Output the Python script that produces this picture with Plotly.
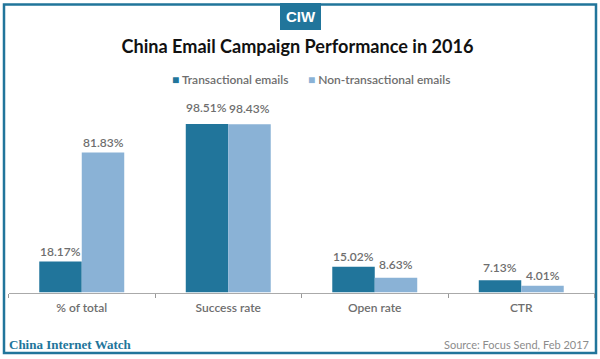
import plotly.graph_objects as go

categories = ["% of total", "Success rate", "Open rate", "CTR"]
transactional = [18.17, 98.51, 15.02, 7.13]
non_transactional = [81.83, 98.43, 8.63, 4.01]
transactional_label_lift = [10, 17, 10, 13]
non_transactional_label_lift = [10, 16, 13, 10]
W, H = 600, 359
FONT = "Lato"
DARK = "#21759b"
LIGHT = "#8ab2d6"
GREY = "#6e6e6e"


def px(v):
    return v / W


def py(v):
    return 1 - v / H


fig = go.Figure()
for name, vals, col in [("Transactional emails", transactional, DARK),
                        ("Non-transactional emails", non_transactional, LIGHT)]:
    fig.add_bar(x=categories, y=vals, name=name, marker_color=col, marker_line_width=0,
                showlegend=False)

shapes = [
    dict(type="rect", xref="paper", yref="paper", x0=px(4), x1=px(596), y0=py(353), y1=py(4.5),
         line=dict(color=DARK, width=2.5), fillcolor="rgba(0,0,0,0)", layer="below"),
    dict(type="rect", xref="paper", yref="paper", x0=px(280), x1=px(321), y0=py(30), y1=py(3),
         line_width=0, fillcolor=DARK, layer="below"),
]
annotations = [
    dict(text="<b>CIW</b>", x=px(300.5), y=py(17), font=dict(family="Liberation Sans Narrow, Liberation Sans", size=15, color="white")),
    dict(text="<b>China Internet Watch</b>", x=px(7), y=py(344), xanchor="left",
         font=dict(family="Liberation Serif", size=13, color=DARK)),
    dict(text="Source: Focus Send, Feb 2017", x=px(590.5), y=py(344), xanchor="right",
         font=dict(family=FONT, size=11, color="#8c8c8c")),
    dict(text=f"<span style='color:{DARK}'>■</span> Transactional emails", x=px(170), y=py(80), xanchor="left",
         font=dict(family=FONT, size=12, color=GREY, weight=600)),
    dict(text=f"<span style='color:{LIGHT}'>■</span> Non-transactional emails", x=px(306), y=py(80), xanchor="left",
         font=dict(family=FONT, size=12, color=GREY, weight=600)),
]
for a in annotations:
    a.update(xref="paper", yref="paper", showarrow=False, yanchor="middle")

for vals, lifts, dx in [(transactional, transactional_label_lift, -21.4),
                        (non_transactional, non_transactional_label_lift, 21.4)]:
    for cat, v, lift in zip(categories, vals, lifts):
        annotations.append(dict(x=cat, y=v, xref="x", yref="y", text=f"{v:.2f}%", showarrow=False,
                                xshift=dx, yshift=lift, yanchor="middle", xanchor="center",
                                font=dict(family=FONT, size=12, color=GREY, weight=600)))

fig.update_layout(
    width=W, height=H, autosize=False, paper_bgcolor="white", plot_bgcolor="white",
    margin=dict(l=0, r=0, t=0, b=0), barmode="group", bargap=0.42, bargroupgap=0,
    title=dict(text="<b>China Email Campaign Performance in 2016</b>", x=px(297.5), xanchor="center",
               y=py(47), yanchor="middle", font=dict(family=FONT, size=18.1, color="#111111")),
    showlegend=False,
    xaxis=dict(domain=[px(8.5), px(594.5)], tickson="boundaries", ticks="outside", ticklen=4,
               ticklabelstandoff=4,
               tickcolor="#999999", linecolor="#aaaaaa", linewidth=1, showline=True,
               tickfont=dict(family=FONT, size=12, color=GREY, weight=600), fixedrange=True),
    yaxis=dict(domain=[py(292.5), py(121.5)], range=[0, 100], visible=False, fixedrange=True),
    shapes=shapes, annotations=annotations,
)
fig.write_html("out.html", config=dict(displayModeBar=False),
               post_script="document.body.style.margin='0';document.body.style.overflow='hidden';")
